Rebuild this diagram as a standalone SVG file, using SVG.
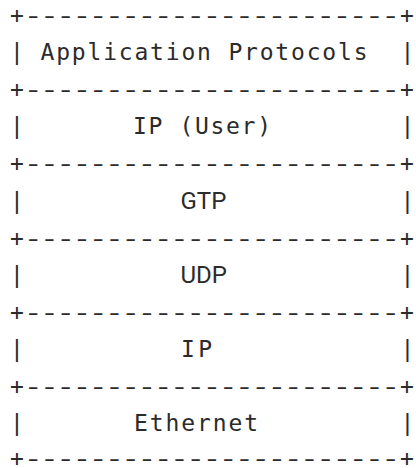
<svg xmlns="http://www.w3.org/2000/svg" width="416" height="468" viewBox="0 0 416 468">
<style>
  text { fill: #2b2b2b; font-family: "DejaVu Sans Mono", "Liberation Mono", monospace; font-size: 23px; }
  .dash { letter-spacing: -2.24px; }
  .mid { text-anchor: middle; }
  .sans { font-family: Roboto, "Liberation Sans", sans-serif; font-size: 24px; }
</style>
<defs>
  <g id="rule">
    <text class="mid" x="17" y="0">+</text>
    <text class="dash" transform="translate(23.56 0) scale(1.4 1)" x="0" y="0">-----------------------</text>
    <text class="mid" x="407" y="0">+</text>
  </g>
</defs>
<rect width="416" height="468" fill="#ffffff"/>
<g id="connectors">
  <use href="#rule" y="23"/>
  <use href="#rule" y="97.2"/>
  <use href="#rule" y="171.4"/>
  <use href="#rule" y="245.6"/>
  <use href="#rule" y="319.8"/>
  <use href="#rule" y="394"/>
  <use href="#rule" y="466"/>
</g>
<g id="layer-application">
  <text class="mid" x="17" y="60.1">|</text>
  <text x="40.5" y="60.1" textLength="327" lengthAdjust="spacing">Application Protocols</text>
  <text class="mid" x="407.5" y="60.1">|</text>
</g>
<g id="layer-ip-user">
  <text class="mid" x="17" y="134.3">|</text>
  <text x="133" y="134.3" textLength="138" lengthAdjust="spacing">IP (User)</text>
  <text class="mid" x="407.5" y="134.3">|</text>
</g>
<g id="layer-gtp">
  <text class="mid" x="17" y="208.5">|</text>
  <text class="sans" x="180.5" y="208.5">GTP</text>
  <text class="mid" x="407.5" y="208.5">|</text>
</g>
<g id="layer-udp">
  <text class="mid" x="17" y="282.7">|</text>
  <text class="sans" x="180.5" y="282.7">UDP</text>
  <text class="mid" x="407.5" y="282.7">|</text>
</g>
<g id="layer-ip">
  <text class="mid" x="17" y="356.9">|</text>
  <text x="181" y="356.9" textLength="31" lengthAdjust="spacing">IP</text>
  <text class="mid" x="407.5" y="356.9">|</text>
</g>
<g id="layer-ethernet">
  <text class="mid" x="17" y="431.1">|</text>
  <text x="134" y="431.1" textLength="124" lengthAdjust="spacing">Ethernet</text>
  <text class="mid" x="407.5" y="431.1">|</text>
</g>
</svg>
